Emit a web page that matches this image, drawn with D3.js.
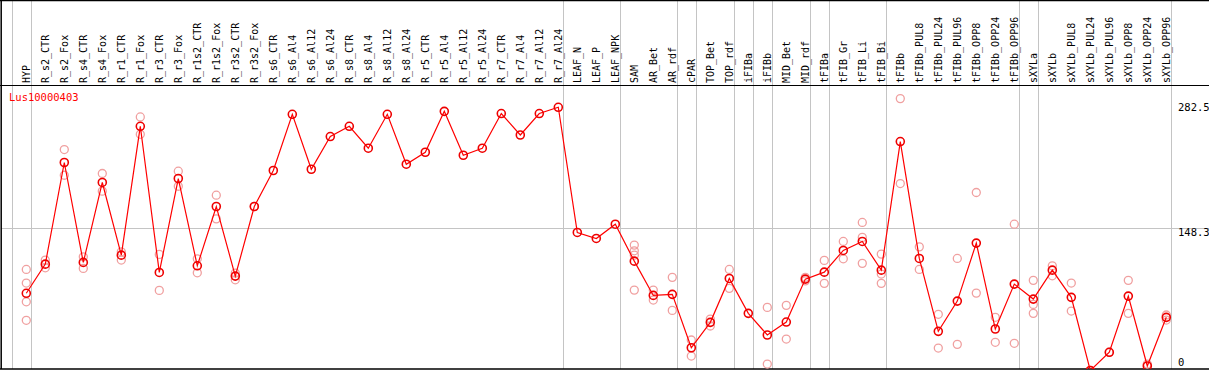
<!DOCTYPE html>
<html>
<head>
<meta charset="utf-8">
<script src="https://cdn.jsdelivr.net/npm/d3@7"></script>
<style>
  body { margin: 0; background: #fff; }
  svg { display: block; }
  text { font-family: "DejaVu Sans Mono", "Liberation Mono", monospace; }
</style>
</head>
<body>
<div id="chart"></div>
<script>
// gene
var geneName = "Lus10000403";

// sample groups (gray separators between groups)
var groups = [
    ["HYP"],
    ["R_s2_CTR", "R_s2_Fox", "R_s4_CTR", "R_s4_Fox", "R_r1_CTR", "R_r1_Fox", "R_r3_CTR", "R_r3_Fox",
     "R_r1s2_CTR", "R_r1s2_Fox", "R_r3s2_CTR", "R_r3s2_Fox",
     "R_s6_CTR", "R_s6_Al4", "R_s6_Al12", "R_s6_Al24", "R_s8_CTR", "R_s8_Al4", "R_s8_Al12", "R_s8_Al24",
     "R_r5_CTR", "R_r5_Al4", "R_r5_Al12", "R_r5_Al24", "R_r7_CTR", "R_r7_Al4", "R_r7_Al12", "R_r7_Al24"],
    ["LEAF_N", "LEAF_P", "LEAF_NPK"],
    ["SAM", "AR_Bet", "AR_rdf"],
    ["cPAR"],
    ["TOP_Bet", "TOP_rdf"],
    ["iFIBa"],
    ["iFIBb"],
    ["MID_Bet", "MID_rdf"],
    ["tFIBa"],
    ["tFIB_Gr", "tFIB_Li", "tFIB_Bi"],
    ["tFIBb", "tFIBb_PUL8", "tFIBb_PUL24", "tFIBb_PUL96", "tFIBb_OPP8", "tFIBb_OPP24", "tFIBb_OPP96"],
    ["sXYLa"],
    ["sXYLb", "sXYLb_PUL8", "sXYLb_PUL24", "sXYLb_PUL96", "sXYLb_OPP8", "sXYLb_OPP24", "sXYLb_OPP96"]
];
var samples = groups.flat();

// mean expression per sample
var means = [
    80.5,
    110.7, 216.0, 112.5, 195.3, 120.0, 253.5, 102.1, 199.4,
    109.0, 170.4, 98.3, 170.4,
    207.7, 265.9, 209.0, 242.9, 253.5, 230.8, 265.9, 214.2,
    226.6, 269.0, 223.5, 230.8, 266.7, 244.5, 266.7, 273.2,
    143.5, 137.3, 152.1,
    113.8, 78.3, 79.4,
    24.1,
    50.4, 95.9,
    59.7,
    37.3,
    50.7, 95.2,
    102.4,
    124.9, 134.2, 104.5,
    237.7, 116.6, 41.1, 72.4, 132.5, 43.5, 90.0,
    74.5,
    104.5, 76.3, 0.5, 19.4, 77.6, 5.2, 55.6
];

// replicate values per sample
var reps = [
    [105.2, 91.1, 71.7, 52.5],
    [114.9, 106.9], [229.4, 202.8], [118.3, 106.3], [204.6, 186.3], [123.5, 114.9], [263.2, 245.2], [120.8, 83.5], [207.0, 191.4],
    [116.2, 101.7], [182.1, 157.6], [101.4, 94.5], [170.4],
    [], [], [], [], [], [], [], [],
    [], [], [], [], [], [], [], [],
    [], [], [],
    [130.4, 124.5, 120.0, 83.8], [83.8, 73.5], [97.0, 62.8],
    [32.1, 15.5],
    [53.8, 46.6], [105.2, 85.6],
    [],
    [65.9, 7.2],
    [68.0, 33.1], [97.0, 93.4],
    [114.6, 90.8],
    [134.2, 116.2], [153.9, 138.4, 111.5], [121.1, 100.4, 90.8],
    [282.2, 194.2], [128.6, 105.2], [58.7, 23.8], [116.6, 27.6], [184.9, 80.7], [55.6, 29.7], [152.1, 28.7],
    [93.9, 69.0, 59.7],
    [109.0, 98.6], [91.1, 62.1], [0.5], [19.4], [93.9, 59.7], [7.2], [58.0, 52.8]
];

// right side tick labels
var yTicks = [282.5, 148.3, 0];

var svgWidth = 1209;
var svgHeight = 370;
var headerBottom = 85.5;
var plotBottom = 369;

var svg = d3.select("#chart")
    .append("svg")
    .attr("width", svgWidth)
    .attr("height", svgHeight);

var xScale = d3.scalePoint()
    .domain(samples)
    .range([26.3, 26.3 + 19 * (samples.length - 1)]);

var yScale = d3.scaleLinear()
    .domain([0, 282.5])
    .range([371, 98.3]);

// clip for the plot area
svg.append("clipPath")
    .attr("id", "plotClip")
    .append("rect")
    .attr("x", 1)
    .attr("y", headerBottom)
    .attr("width", svgWidth)
    .attr("height", plotBottom - headerBottom);

// horizontal gray line at middle tick
svg.append("line")
    .attr("x1", 1)
    .attr("x2", svgWidth)
    .attr("y1", Math.round(yScale(148.3)) + 0.5)
    .attr("y2", Math.round(yScale(148.3)) + 0.5)
    .attr("stroke", "#c4c4c4")
    .attr("stroke-width", 1);

// group separators
var sepX = [xScale(groups[0][0]) - 19 + 4.5];
groups.forEach(function(g) {
    sepX.push(xScale(g[g.length - 1]) + 4.5);
});

svg.selectAll(".sep")
    .data(sepX)
    .enter()
    .append("line")
    .attr("class", "sep")
    .attr("x1", d => Math.round(d) + 0.5)
    .attr("x2", d => Math.round(d) + 0.5)
    .attr("y1", 0)
    .attr("y2", plotBottom)
    .attr("stroke", "#c4c4c4")
    .attr("stroke-width", 1);

// borders
svg.append("line").attr("x1", 0).attr("x2", svgWidth).attr("y1", 0.5).attr("y2", 0.5)
    .attr("stroke", "#000").attr("stroke-width", 1.5);
svg.append("line").attr("x1", 0).attr("x2", svgWidth).attr("y1", headerBottom).attr("y2", headerBottom)
    .attr("stroke", "#000").attr("stroke-width", 1.2);
svg.append("line").attr("x1", 0).attr("x2", svgWidth).attr("y1", plotBottom).attr("y2", plotBottom)
    .attr("stroke", "#000").attr("stroke-width", 1.5);
svg.append("line").attr("x1", 1.2).attr("x2", 1.2).attr("y1", 0).attr("y2", plotBottom)
    .attr("stroke", "#000").attr("stroke-width", 1.5);

// column headers
svg.selectAll(".colLabel")
    .data(samples)
    .enter()
    .append("text")
    .attr("class", "colLabel")
    .attr("transform", d => `translate(${xScale(d) + 4}, 83) rotate(-90)`)
    .attr("text-anchor", "start")
    .attr("font-size", "10px")
    .attr("fill", "#000")
    .text(d => d);

// gene title
svg.append("text")
    .attr("x", 9)
    .attr("y", 101)
    .attr("font-size", "10.5px")
    .attr("fill", "red")
    .text(geneName);

// right tick labels
svg.selectAll(".yLabel")
    .data(yTicks)
    .enter()
    .append("text")
    .attr("class", "yLabel")
    .attr("x", 1178)
    .attr("y", function(d, i) {
        if (i === 0) return yScale(d) + 12.5;
        if (i === yTicks.length - 1) return yScale(d) - 5;
        return yScale(d) + 8.5;
    })
    .attr("font-size", "10.5px")
    .attr("fill", "#000")
    .text(d => d);

var plot = svg.append("g").attr("clip-path", "url(#plotClip)");

// replicate circles
var repPoints = [];
samples.forEach(function(s, i) {
    reps[i].forEach(function(v) {
        repPoints.push({ sample: s, value: v });
    });
});

plot.selectAll(".rep")
    .data(repPoints)
    .enter()
    .append("circle")
    .attr("class", "rep")
    .attr("cx", d => xScale(d.sample))
    .attr("cy", d => yScale(d.value))
    .attr("r", 4)
    .attr("fill", "none")
    .attr("stroke", "#f0a0a0")
    .attr("stroke-width", 1.3);

// mean line
var line = d3.line()
    .x((d, i) => xScale(samples[i]))
    .y(d => yScale(d));

plot.append("path")
    .datum(means)
    .attr("d", line)
    .attr("fill", "none")
    .attr("stroke", "red")
    .attr("stroke-width", 1.2);

plot.selectAll(".mean")
    .data(means)
    .enter()
    .append("circle")
    .attr("class", "mean")
    .attr("cx", (d, i) => xScale(samples[i]))
    .attr("cy", d => yScale(d))
    .attr("r", 4)
    .attr("fill", "none")
    .attr("stroke", "#ee0000")
    .attr("stroke-width", 1.6);
</script>
</body>
</html>
